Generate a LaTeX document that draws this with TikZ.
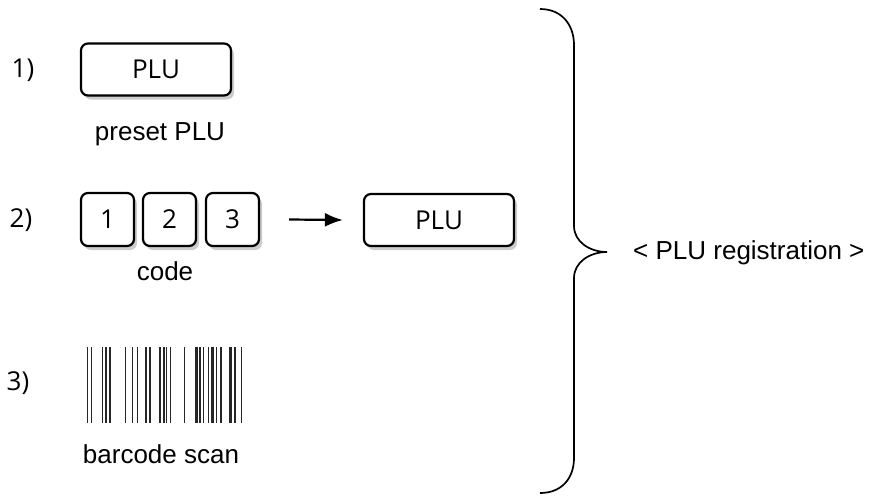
\documentclass[tikz,border=0pt]{standalone}
\usepackage{fontspec}
\setmainfont{Liberation Sans}
\newfontfamily\boxfont{Open Sans}
\usetikzlibrary{shadows,arrows.meta}
\begin{document}
\begin{tikzpicture}[x=1pt,y=-1pt,
  keybox/.style={draw=black, line width=2.2pt, rounded corners=7pt, fill=white,
    inner sep=0pt, font=\boxfont\fontsize{26}{30}\selectfont,
    drop shadow={shadow xshift=3pt, shadow yshift=-4pt, fill=black!40, opacity=0.5}},
  widebox/.style={keybox, minimum width=150pt, minimum height=52pt},
  digitbox/.style={keybox, minimum width=53pt, minimum height=53pt},
  caption/.style={font=\fontsize{26}{30}\selectfont, inner sep=0pt},
  numlabel/.style={font=\boxfont\fontsize{26}{30}\selectfont, inner sep=0pt},
  bar/.style={line width=#1, draw=black!85}
]
\useasboundingbox (0,0) rectangle (869,496);

% labels 1) 2) 3)
\node[numlabel] (n1) at (23,70) {1)};
\node[numlabel] (n2) at (21,220) {2)};
\node[numlabel] (n3) at (18,383) {3)};

% 1) preset PLU
\node[widebox] (b1) at (156,69.5) {PLU};
\node[caption, anchor=base] (c1) at (160,140) {preset PLU};

% 2) code
\node[digitbox] (k1) at (107.5,219.5) {1};
\node[digitbox] (k2) at (169.5,219.5) {2};
\node[digitbox] (k3) at (232.5,219.5) {3};
\node[caption, anchor=base] (c2) at (165,280) {code};
\node[widebox] (b2) at (439,220) {PLU};
\draw[line width=2.2pt, -{Latex[length=18pt,width=14pt]}]
  ([xshift=29pt]k3.east) -- ([xshift=-20pt]b2.west);

% 3) barcode
\foreach \x/\w in {87.3/1.3, 91.7/1.3, 102.3/1.3, 106/1.3, 110/1.3, 125.7/1, 132.7/1.3,
  137.3/1.3, 146/1.3, 150/1.3, 160/2.6, 164/1.3, 166.7/1.3, 170.7/1.3, 184/1,
  196.7/2.6, 200/1.3, 203.3/1.3, 208.3/1.3, 212.7/2.6, 216.7/1.3, 221/1.3,
  230.7/2.6, 235/1.3, 241.7/1.3}
  \draw[bar=\w pt] (\x,347) -- (\x,423);
\node[caption, anchor=base] (c3) at (161,463) {barcode scan};

% brace
\coordinate (tip) at (607,252);
\draw[line width=1.7pt]
  (540,9) .. controls (562,9) and (574,25) .. (574,45)
  -- (574,226)
  .. controls (574,242) and (590,252) .. (tip)
  .. controls (590,252) and (574,262) .. (574,278)
  -- (574,458)
  .. controls (574,478) and (562,493) .. (540,493);
\node[caption, anchor=west] (reg) at (633,253) {< PLU registration >};
\end{tikzpicture}
\end{document}
